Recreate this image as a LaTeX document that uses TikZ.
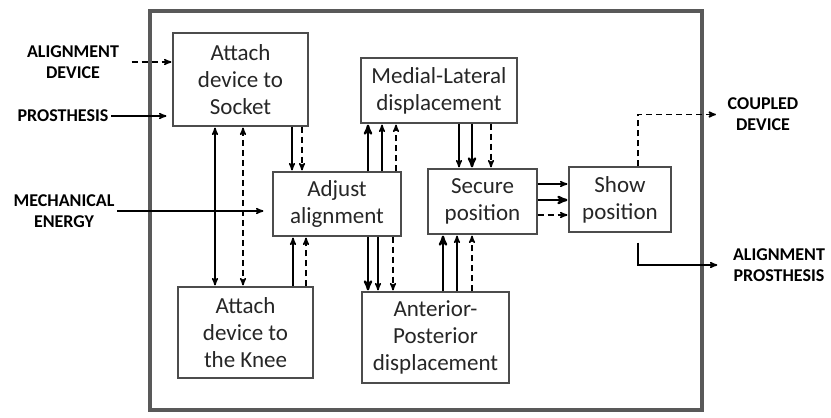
\documentclass[tikz,border=0pt]{standalone}
\usepackage{fontspec}
\setmainfont{Carlito}
\usetikzlibrary{arrows}

\begin{document}
\begin{tikzpicture}[x=1pt,y=-1pt,>=stealth',shorten >=1pt,line width=1.5pt,
  block/.style={draw=black!70,line width=1.2pt,inner sep=0pt,align=center,
    font=\fontsize{23}{27}\selectfont,text=black!85},
  io label/.style={align=center,inner sep=2pt,font=\fontsize{18}{21}\selectfont\bfseries},
  dash line/.style={dash pattern=on 6pt off 4pt},
  heavy/.style={line width=2.3pt}]

    \useasboundingbox (0,0) rectangle (831,418);

    % outer frame
    \draw[draw=black!65,line width=4pt] (150,11) rectangle (702,410);

    % blocks
    \node[block,minimum width=135pt,minimum height=93pt] (sock) at (240.5,79.5) {Attach\\device to\\Socket};
    \node[block,minimum width=156pt,minimum height=65pt] (med) at (439,90.5) {Medial-Lateral\\displacement};
    \node[block,minimum width=128pt,minimum height=64pt] (adj) at (337,204) {Adjust\\alignment};
    \node[block,minimum width=109pt,minimum height=65pt] (sec) at (482.5,201.5) {Secure\\position};
    \node[block,minimum width=102pt,minimum height=65pt] (show) at (620,199.5) {Show\\position};
    \node[block,minimum width=135pt,minimum height=91pt] (knee) at (245.5,332.5) {Attach\\device to\\the Knee};
    \node[block,minimum width=147pt,minimum height=91pt] (ant) at (435.5,337.5) {Anterior-\\Posterior\\displacement};

    % inputs and outputs
    \node[io label] (aldev) at (73,62) {ALIGNMENT\\DEVICE};
    \node[io label] (pros) at (63,116) {PROSTHESIS};
    \node[io label] (mech) at (64,211) {MECHANICAL\\ENERGY};
    \node[io label] (coup) at (763,114.5) {COUPLED\\DEVICE};
    \node[io label] (alpros) at (779,265) {ALIGNMENT\\PROSTHESIS};

    \draw[->,dash line] ([xshift=10pt]aldev.east) -- (sock.west |- aldev);
    \draw[->,shorten >=6pt] (pros.east) -- (sock.west |- pros);
    \draw[->,shorten >=9pt] (mech.east) -- (adj.west |- mech);
    \draw[->,dash line,shorten >=9pt] ([xshift=18pt]show.north) |- (coup.west);
    \draw[->,shorten >=13pt] ([xshift=18pt,yshift=-10pt]show.south) |- (alpros.west);

    % socket <-> knee
    \draw[<->,shorten <=1pt] (215,0 |- sock.south) -- (215,0 |- knee.north);
    \draw[<->,dash line,shorten <=1pt] (243,0 |- sock.south) -- (243,0 |- knee.north);

    % socket -> adjust
    \draw[->] (292,0 |- sock.south) -- (292,0 |- adj.north);
    \draw[->,dash line] (302,0 |- sock.south) -- (302,0 |- adj.north);

    % adjust -> medial
    \draw[->,heavy] (368,0 |- adj.north) -- (368,0 |- med.south);
    \draw[->] (382,0 |- adj.north) -- (382,0 |- med.south);
    \draw[->,dash line] (396,0 |- adj.north) -- (396,0 |- med.south);

    % medial -> secure
    \draw[->] (459,0 |- med.south) -- (459,0 |- sec.north);
    \draw[->,heavy] (472,0 |- med.south) -- (472,0 |- sec.north);
    \draw[->,dash line] (491,0 |- med.south) -- (491,0 |- sec.north);

    % knee -> adjust
    \draw[->] (293,0 |- knee.north) -- (293,0 |- adj.south);
    \draw[->,dash line] (306,0 |- knee.north) -- (306,0 |- adj.south);

    % adjust -> anterior
    \draw[->,heavy] (368,0 |- adj.south) -- (368,0 |- ant.north);
    \draw[->] (378,0 |- adj.south) -- (378,0 |- ant.north);
    \draw[->,dash line] (393,0 |- adj.south) -- (393,0 |- ant.north);

    % anterior -> secure
    \draw[->,heavy] (443,0 |- ant.north) -- (443,0 |- sec.south);
    \draw[->] (457,0 |- ant.north) -- (457,0 |- sec.south);
    \draw[->,dash line] (472,0 |- ant.north) -- (472,0 |- sec.south);

    % secure -> show
    \draw[->] (sec.east |- 0,184) -- (show.west |- 0,184);
    \draw[->,heavy] (sec.east |- 0,200) -- (show.west |- 0,200);
    \draw[->,dash line] (sec.east |- 0,215) -- (show.west |- 0,215);
\end{tikzpicture}
\end{document}
